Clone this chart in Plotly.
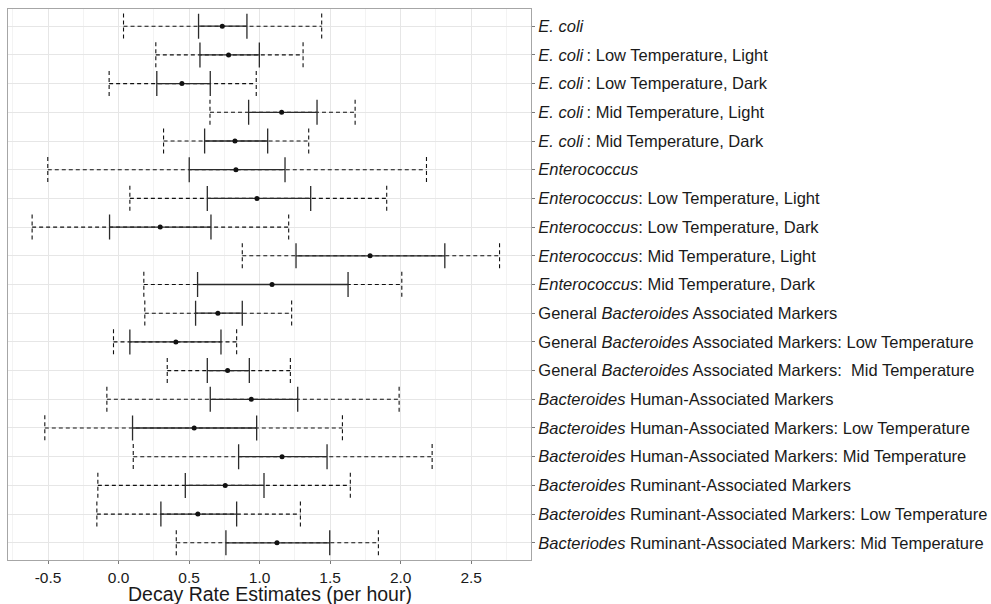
import plotly.graph_objects as go

labels = [
    "<i>E. coli</i>",
    "<i>E. coli</i>\u2009: Low Temperature, Light",
    "<i>E. coli</i>\u2009: Low Temperature, Dark",
    "<i>E. coli</i>\u2009: Mid Temperature, Light",
    "<i>E. coli</i>\u2009: Mid Temperature, Dark",
    "<i>Enterococcus</i>",
    "<i>Enterococcus</i>: Low Temperature, Light",
    "<i>Enterococcus</i>: Low Temperature, Dark",
    "<i>Enterococcus</i>: Mid Temperature, Light",
    "<i>Enterococcus</i>: Mid Temperature, Dark",
    "General <i>Bacteroides</i> Associated Markers",
    "General <i>Bacteroides</i> Associated Markers: Low Temperature",
    "General <i>Bacteroides</i> Associated Markers:\u00a0 Mid Temperature",
    "<i>Bacteroides</i> Human-Associated Markers",
    "<i>Bacteroides</i> Human-Associated Markers: Low Temperature",
    "<i>Bacteroides</i> Human-Associated Markers: Mid Temperature",
    "<i>Bacteroides</i> Ruminant-Associated Markers",
    "<i>Bacteroides</i> Ruminant-Associated Markers: Low Temperature",
    "<i>Bacteriodes</i> Ruminant-Associated Markers: Mid Temperature",
]

estimate = [0.735, 0.780, 0.449, 1.156, 0.825, 0.832, 0.981, 0.295, 1.783, 1.088,
            0.704, 0.406, 0.773, 0.941, 0.536, 1.159, 0.756, 0.562, 1.123]
ci_low = [0.567, 0.577, 0.271, 0.922, 0.610, 0.501, 0.629, -0.064, 1.258, 0.560,
          0.546, 0.080, 0.629, 0.650, 0.099, 0.851, 0.473, 0.300, 0.761]
ci_high = [0.910, 0.998, 0.650, 1.407, 1.057, 1.180, 1.362, 0.655, 2.313, 1.627,
           0.877, 0.726, 0.927, 1.270, 0.979, 1.478, 1.031, 0.837, 1.497]
pi_low = [0.035, 0.264, -0.067, 0.648, 0.319, -0.502, 0.080, -0.613, 0.877, 0.179,
          0.186, -0.036, 0.345, -0.083, -0.523, 0.104, -0.147, -0.154, 0.409]
pi_high = [1.440, 1.308, 0.976, 1.677, 1.348, 2.183, 1.901, 1.206, 2.701, 2.008,
           1.227, 0.837, 1.218, 1.989, 1.587, 2.223, 1.643, 1.289, 1.842]

x_ticks = [-0.5, 0.0, 0.5, 1.0, 1.5, 2.0, 2.5]
x_ticktext = ["-0.5", "0.0", "0.5", "1.0", "1.5", "2.0", "2.5"]
x_title = "Decay Rate Estimates (per hour)"

n = len(labels)
pos = list(range(1, n + 1))
CAP = 0.44  # half-height of end caps in category units

# dashed prediction intervals with dashed end caps
dx, dy = [], []
for p, lo, hi in zip(pos, pi_low, pi_high):
    dx += [lo, hi, None, lo, lo, None, hi, hi, None]
    dy += [p, p, None, p - CAP, p + CAP, None, p - CAP, p + CAP, None]

fig = go.Figure()
fig.add_trace(go.Scatter(
    x=dx, y=dy, mode="lines",
    line=dict(color="#111111", width=1.1, dash="4px,3px"),
    hoverinfo="skip", showlegend=False,
))
fig.add_trace(go.Scatter(
    x=estimate, y=pos, mode="markers",
    marker=dict(color="#111111", size=5),
    error_x=dict(
        type="data", symmetric=False,
        array=[h - e for h, e in zip(ci_high, estimate)],
        arrayminus=[e - l for e, l in zip(estimate, ci_low)],
        color="#2b2b2b", thickness=1.3, width=12.5,
    ),
    showlegend=False,
))

fig.add_annotation(
    text=x_title, xref="paper", yref="paper", x=0.5, y=0,
    xanchor="center", yanchor="middle", yshift=-33.5, showarrow=False,
    font=dict(size=19.5, color="#1a1a1a"),
)

fig.update_layout(
    width=991, height=604,
    margin=dict(l=8, r=460, t=9, b=44),
    paper_bgcolor="white", plot_bgcolor="white",
    font=dict(family="Liberation Sans, Arial, sans-serif", color="#1a1a1a"),
    xaxis=dict(
        range=[-0.784, 2.924],
        tickvals=x_ticks, ticktext=x_ticktext,
        tickfont=dict(size=15.5, color="#1a1a1a"),
        showgrid=True, gridcolor="#e6e6e6", gridwidth=1,
        minor=dict(dtick=0.25, tick0=0, showgrid=True, gridcolor="#f3f3f3", gridwidth=0.8),
        zeroline=False,
        showline=True, mirror=True, linecolor="#a6a6a6", linewidth=1,
        ticks="outside", ticklen=3, tickcolor="#7a7a7a",
        automargin=False,
    ),
    yaxis=dict(
        range=[n + 0.6, 0.4],
        tickvals=pos, ticktext=labels,
        side="right",
        tickfont=dict(size=16.5, color="#1a1a1a"),
        showgrid=True, gridcolor="#e6e6e6", gridwidth=1,
        zeroline=False,
        showline=True, mirror=True, linecolor="#a6a6a6", linewidth=1,
        ticks="outside", ticklen=3, tickcolor="#7a7a7a",
        automargin=False,
    ),
)

fig.write_html(
    "out.html",
    config={"displayModeBar": False},
    post_script="document.body.style.margin='0';document.body.style.overflow='hidden';",
)
